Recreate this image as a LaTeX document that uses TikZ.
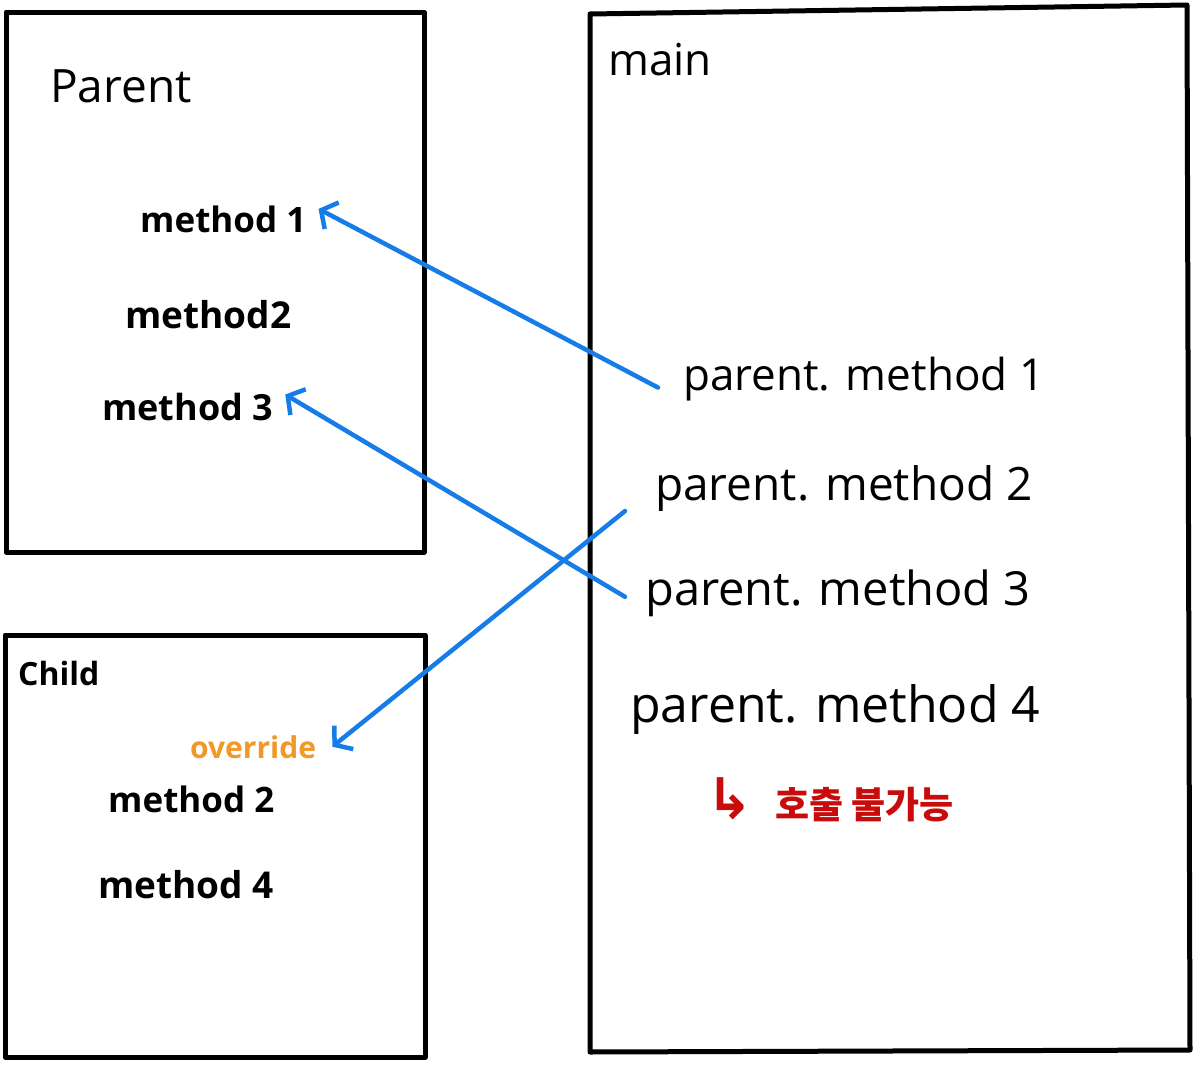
\documentclass[tikz,border=0pt]{standalone}
\usepackage{fontspec}
\setmainfont{Open Sans}
\newfontfamily\korfont{Noto Sans CJK KR}
\newfontfamily\arrfont{DejaVu Sans}
\usetikzlibrary{arrows.meta}

\definecolor{callblue}{RGB}{22,125,232}
\definecolor{ovrorange}{RGB}{240,152,40}
\definecolor{notered}{RGB}{200,12,12}

\tikzset{
  box/.style={line width=5pt, line join=round},
  txt/.style={anchor=base west, inner sep=0pt},
  call/.style={callblue, line width=4.5pt, line cap=round,
    -{Straight Barb[length=12pt,width=30pt,line width=4.5pt]}},
}

\begin{document}
\begin{tikzpicture}[x=1pt,y=-1pt]
\useasboundingbox (0,0) rectangle (1203,1068);

% boxes
\draw[box] (6,12) rectangle (424,552);
\draw[box] (590,14) -- (1187,5) -- (1190,1050) -- (590,1052) -- cycle;
\draw[box] (5,635) rectangle (425,1057);

% Parent
\node[txt, font=\fontsize{46}{52}\selectfont] (parentlbl) at (50,102) {Parent};
\node[txt, font=\bfseries\fontsize{35}{42}\selectfont] (m1) at (140,232) {method 1};
\node[txt, font=\bfseries\fontsize{37}{44}\selectfont] (m2) at (125,328) {method2};
\node[txt, font=\bfseries\fontsize{36}{42}\selectfont] (m3) at (102,420) {method 3};

% main
\node[txt, font=\fontsize{44}{50}\selectfont] (mainlbl) at (608,75) {main};
\node[txt, font=\fontsize{44}{50}\selectfont] (call1) at (683,390) {parent. method 1};
\node[txt, font=\fontsize{46}{52}\selectfont] (call2) at (655,500) {parent. method 2};
\node[txt, font=\fontsize{47}{54}\selectfont] (call3) at (645,605) {parent. method 3};
\node[txt, font=\fontsize{50}{56}\selectfont] (call4) at (630,722) {parent. method 4};
\node[txt, notered, font=\bfseries\fontsize{37}{42}\selectfont] (note) at (706,818)
  {{\arrfont\fontsize{56}{60}\selectfont ↳}\hspace{22pt}{\korfont 호출 불가능}};

% Child
\node[txt, font=\bfseries\fontsize{32}{38}\selectfont] (childlbl) at (18,685) {Child};
\node[txt, ovrorange, font=\bfseries\fontsize{30}{36}\selectfont] (ovr) at (190,758) {override};
\node[txt, font=\bfseries\fontsize{35}{42}\selectfont] (cm2) at (108,812) {method 2};
\node[txt, font=\bfseries\fontsize{37}{44}\selectfont] (cm4) at (98,898) {method 4};

% calls
\draw[call] ([xshift=-25pt,yshift=-9pt]call1.west) -- ([xshift=12pt,yshift=10pt]m1.east);
\draw[call] ([xshift=-20pt,yshift=-4pt]call3.west) -- ([xshift=12pt,yshift=12pt]m3.east);
\draw[call] ([xshift=-30pt,yshift=-23pt]call2.west) -- ([xshift=16pt,yshift=0pt]ovr.east);

\end{tikzpicture}
\end{document}
